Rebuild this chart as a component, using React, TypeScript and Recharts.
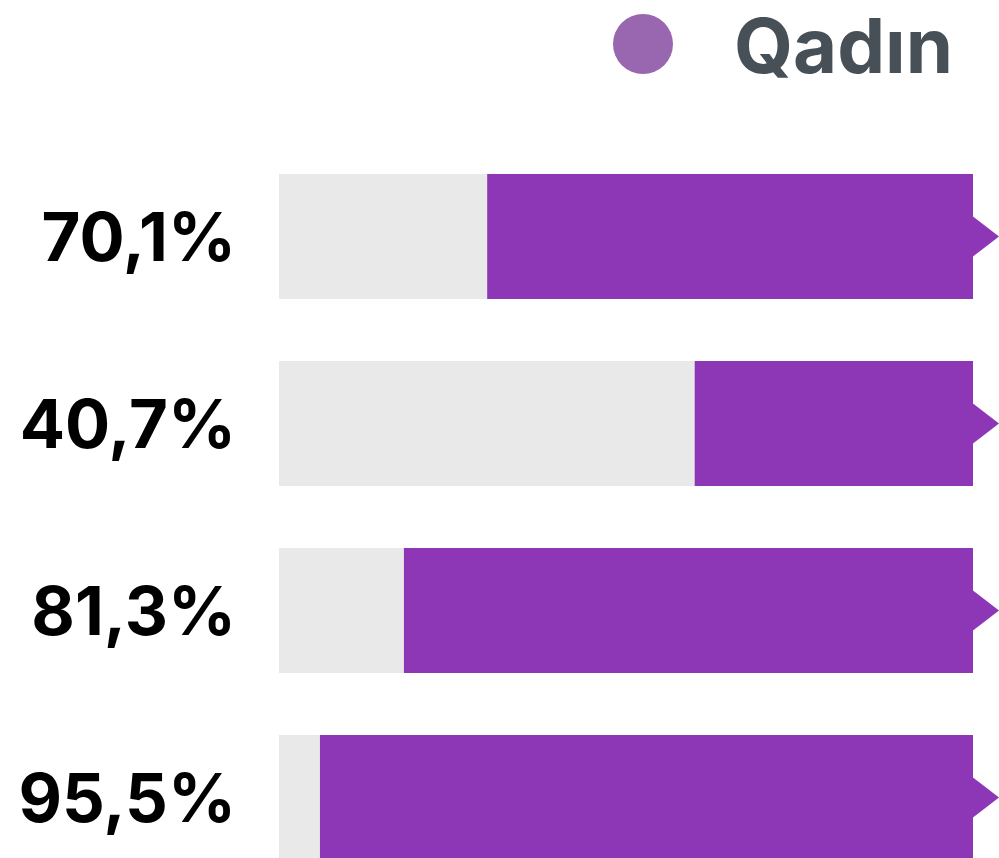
import React from "react";
import { BarChart, Bar, XAxis, YAxis, Legend } from "recharts";

const categories = ["a", "b", "c", "d"];
// bar lengths as drawn in the picture (share of the grey track, %)
const barValues = [70.0, 40.1, 82.0, 94.1];
const shareLabels = ["70,1%", "40,7%", "81,3%", "95,5%"];
const seriesName = "Qadın";

const data = categories.map((c, i) => ({
  cat: c,
  value: barValues[i],
  label: shareLabels[i],
}));

const PURPLE = "#8d37b6";
const TRACK = "#e9e9e9";
const FONT = "Inter, 'Liberation Sans', Arial, sans-serif";

const BarWithArrow = (props: any) => {
  const { x, y, width, height, background } = props;
  const left = Math.min(x, x + width);
  const w = Math.abs(width);
  const right = background ? background.x + background.width : left + w;
  const cy = y + height / 2;
  return (
    <g>
      <rect x={left} y={y} width={w} height={height} fill={PURPLE} />
      <path d={`M${right},${cy - 20} L${right + 26},${cy} L${right},${cy + 20} Z`} fill={PURPLE} />
    </g>
  );
};

const LabelTick = (props: any) => {
  const { y, index } = props;
  return (
    <text
      x={236}
      y={y}
      dy={24}
      textAnchor="end"
      fill="#000"
      fontSize={67}
      fontWeight="bold"
      fontFamily={FONT}
    >
      {shareLabels[index]}
    </text>
  );
};

const LegendContent = () => (
  <div style={{ position: "relative", width: 999, height: 110 }}>
    <span
      style={{
        position: "absolute",
        left: 613,
        top: 14,
        width: 60,
        height: 60,
        borderRadius: "50%",
        background: "#9966b0",
      }}
    />
    <span
      style={{
        position: "absolute",
        left: 734,
        top: -5,
        height: 100,
        lineHeight: "100px",
        fontSize: 76,
        fontWeight: "bold",
        fontFamily: FONT,
        color: "#474f57",
        whiteSpace: "nowrap",
      }}
    >
      {seriesName}
    </span>
  </div>
);

export default function App() {
  return (
    <div style={{ position: "absolute", left: 0, top: 0, width: 999, height: 858, overflow: "hidden", background: "#fff" }}>
      <BarChart
        width={999}
        height={891}
        data={data}
        layout="vertical"
        margin={{ top: 143, right: 26, bottom: 0, left: 0 }}
      >
        <XAxis type="number" domain={[0, 100]} reversed hide />
        <YAxis
          type="category"
          dataKey="cat"
          width={279}
          axisLine={false}
          tickLine={false}
          tick={<LabelTick />}
          interval={0}
        />
        <Legend
          verticalAlign="middle"
          align="center"
          content={<LegendContent />}
          wrapperStyle={{ top: 0, left: 0, width: 999, height: 110 }}
        />
        <Bar
          dataKey="value"
          name={seriesName}
          barSize={125}
          background={{ fill: TRACK }}
          shape={<BarWithArrow />}
          isAnimationActive={false}
        />
      </BarChart>
    </div>
  );
}
